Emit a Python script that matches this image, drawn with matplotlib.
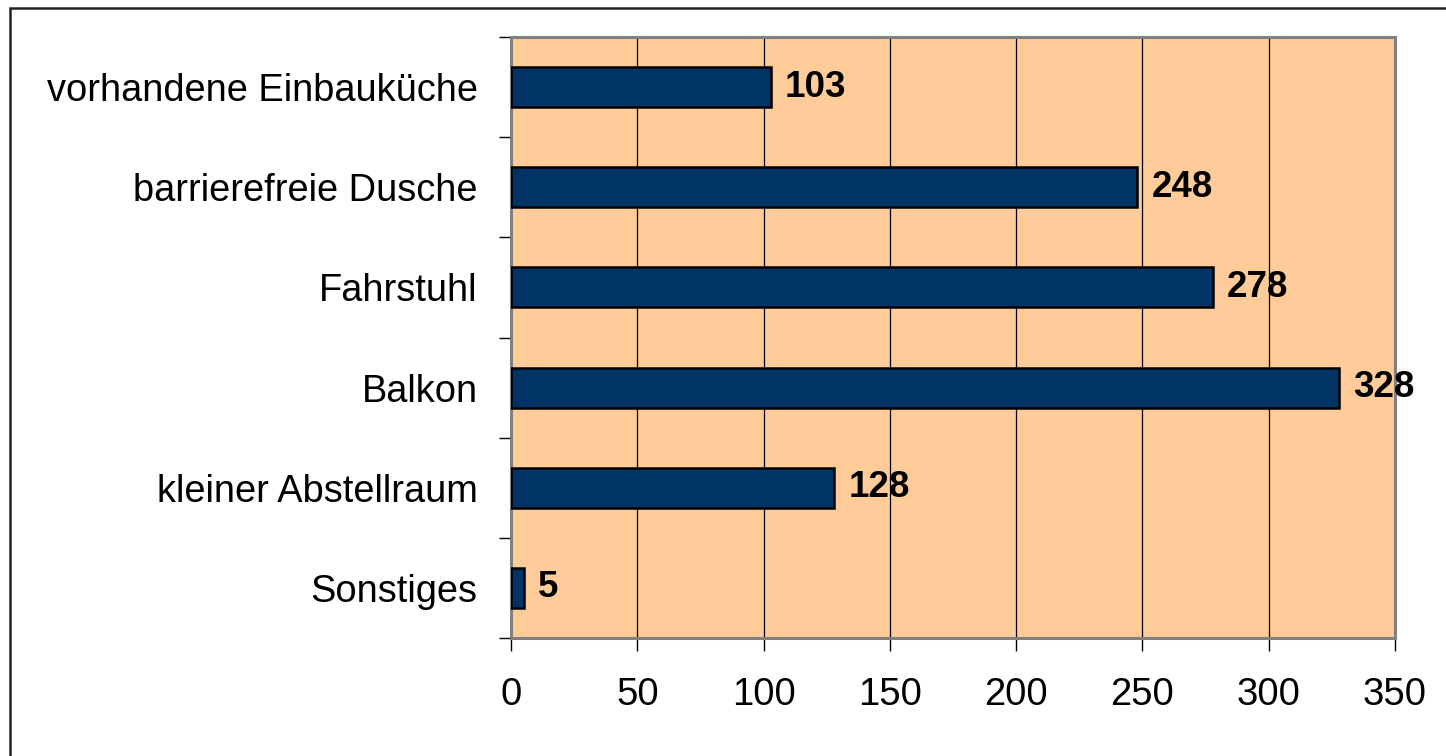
import matplotlib.pyplot as plt
from matplotlib.patches import Rectangle

categories = ['vorhandene Einbauküche', 'barrierefreie Dusche', 'Fahrstuhl',
              'Balkon', 'kleiner Abstellraum', 'Sonstiges']
values = [103, 248, 278, 328, 128, 5]
xticks = [0, 50, 100, 150, 200, 250, 300, 350]

plt.rcParams['font.family'] = ['Liberation Sans', 'DejaVu Sans']

fig = plt.figure(figsize=(14.46, 7.56), dpi=100)
ax = fig.add_axes([511 / 1446, 1 - 638 / 756, (1395 - 511) / 1446, (638 - 37) / 756])

# border around the whole picture (right/bottom edges run off the image)
fig.patches.append(Rectangle((9.5 / 1446, -10 / 756), 1500 / 1446, (756 - 8 + 10) / 756,
                             transform=fig.transFigure, fill=False,
                             edgecolor='#222222', linewidth=1.8))

pos = list(range(len(categories)))[::-1]
ax.set_facecolor('#FFCC99')
ax.barh(pos, values, height=0.4, color='#003366', edgecolor='black', linewidth=1.8, zorder=3)
for p, v in zip(pos, values):
    ax.text(v + 5.5, p, str(v), va='center', ha='left', fontsize=26.5, fontweight='bold', zorder=4)

ax.set_xlim(0, 350)
ax.set_ylim(-0.5, len(categories) - 0.5)
ax.set_xticks(xticks)
ax.set_xticklabels([str(t) for t in xticks], fontsize=27.5)
ax.grid(axis='x', color='black', linewidth=0.9, zorder=1)

ax.set_yticks([p - 0.5 for p in range(len(categories) + 1)])
ax.set_yticklabels([])
ax.set_yticks(pos, minor=True)
ax.set_yticklabels(categories, minor=True, fontsize=27.4)
ax.tick_params(axis='y', which='minor', length=0, pad=24)
ax.tick_params(axis='y', which='major', length=9, width=1, color='black')
ax.tick_params(axis='x', length=9, width=1, pad=19, color='black')

for s in ax.spines.values():
    s.set_color('#808080')
    s.set_linewidth(2.2)

plt.savefig('out.png', dpi=100)
